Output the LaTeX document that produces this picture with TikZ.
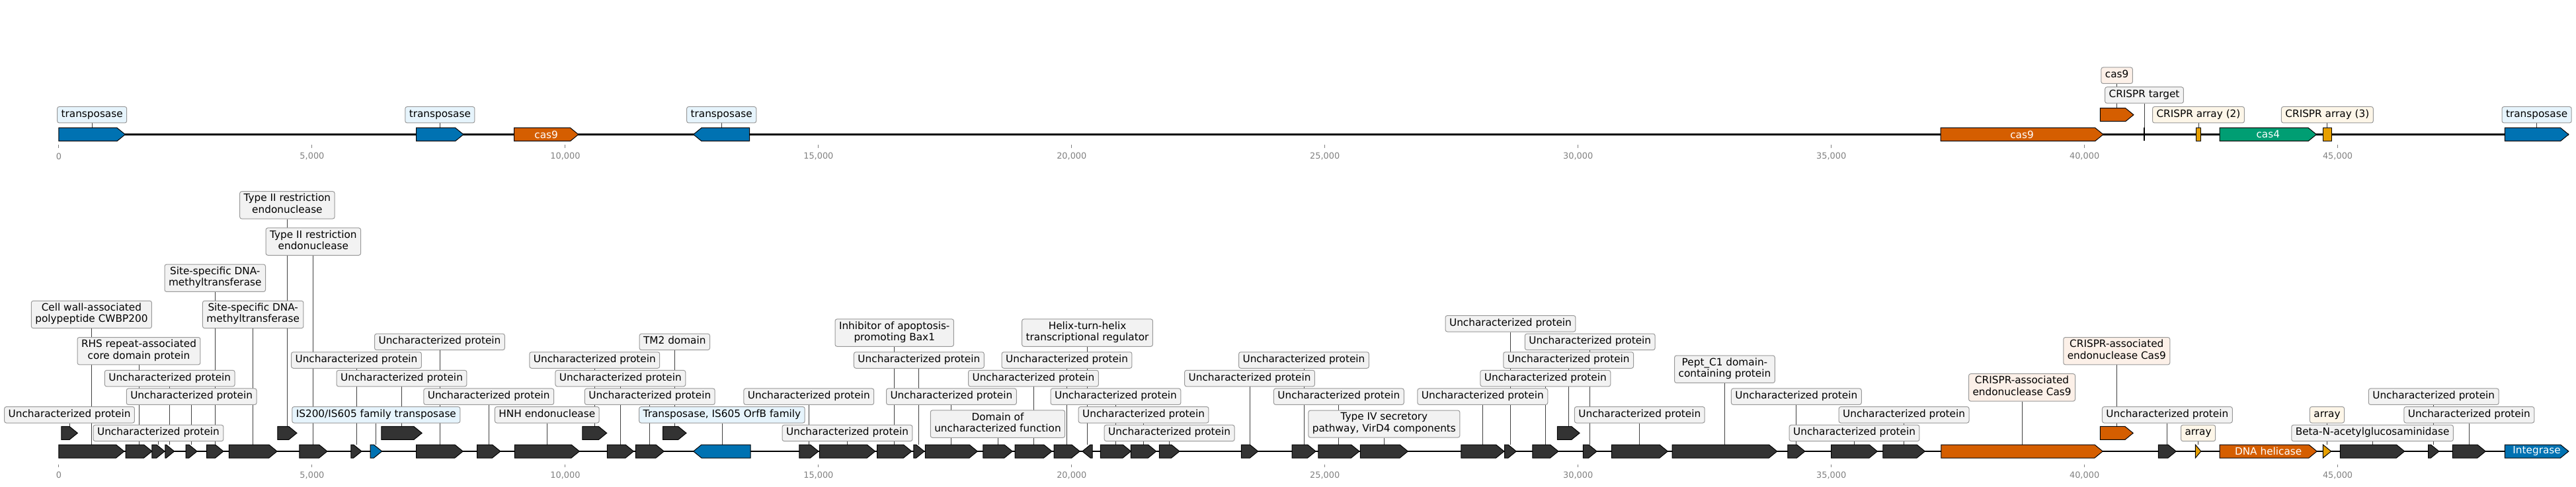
\documentclass[tikz,border=0pt]{standalone}
\usepackage{fontspec}
\setmainfont{DejaVu Sans}
\usetikzlibrary{backgrounds}

\begin{document}
\begin{tikzpicture}[x=76.59pt, y=1pt, line join=miter]
  % ----- styles & colors -----
  \definecolor{dk}{RGB}{51,51,51}
  \definecolor{blu}{RGB}{0,114,178}
  \definecolor{org}{RGB}{213,94,0}
  \definecolor{grn}{RGB}{0,158,115}
  \definecolor{yel}{RGB}{230,159,0}
  \definecolor{lgray}{RGB}{242,242,242}
  \definecolor{lblue}{RGB}{230,244,252}
  \definecolor{lpeach}{RGB}{252,240,232}
  \definecolor{lcream}{RGB}{253,246,232}
  \definecolor{edge}{RGB}{153,153,153}
  \definecolor{tickgray}{RGB}{128,128,128}
  \tikzset{
    gene/.style={draw=black, line width=1pt},
    track/.style={draw=black, line width=2.4pt},
    lab/.style={draw=edge, line width=1pt, rounded corners=3pt, inner xsep=6pt, inner ysep=3.5pt,
      align=center, font=\fontsize{15.3}{17.5}\selectfont,
      execute at begin node=\strut, execute at end node=\strut},
    intext/.style={text=white, inner sep=0pt, font=\fontsize{15.3}{17.5}\selectfont},
    stem/.style={draw=black!75, line width=0.9pt},
    tick/.style={draw=tickgray, line width=1pt},
    ticklab/.style={text=tickgray, inner sep=0pt, font=\fontsize{12.9}{15}\selectfont}
  }

  % ----- geometry -----
  \def\hh{0.16}              % arrow head length (kb)
  \def\uncp{Uncharacterized protein}

  \useasboundingbox (-1.162,0) rectangle (49.706,736);

  % ===== top track =====
  \def\yb{532.5}  \def\ys{29.75}
  \draw[track] (0,\yb) -- (49.56,\yb);

  \foreach \t/\tl in {0/0,5/{5,000},10/{10,000},15/{15,000},20/{20,000},25/{25,000},30/{30,000},35/{35,000},40/{40,000},45/{45,000}}{
    \draw[tick] (\t,512) -- (\t,516.7);
    \node[ticklab] (tt\t) at (\t,499.3) {\tl};
  }

  % genes with a label box
  \foreach \xa/\xb/\gl/\dir/\gc/\ll/\txt/\lf [count=\i] in {
    0.00/1.31/0/1/blu/1/transposase/lblue,
    7.06/7.99/0/1/blu/1/transposase/lblue,
    12.53/13.64/0/-1/blu/1/transposase/lblue,
    40.31/40.97/1/1/org/3/cas9/lpeach,
    42.20/42.30/0/0/yel/1/CRISPR array (2)/lcream,
    44.71/44.88/0/0/yel/1/CRISPR array (3)/lcream,
    48.30/49.56/0/1/blu/1/transposase/lblue}{
    \pgfmathsetmacro\yy{\yb+\ys*\gl}
    \pgfmathsetmacro\hd{min(\hh,\xb-\xa)}
    \pgfmathsetmacro\tip{\dir>0 ? \xb : \xa}
    \pgfmathsetmacro\bas{\dir>0 ? \xa : \xb}
    \pgfmathsetmacro\nk{\tip-(\dir)*\hd}
    \draw[gene, fill=\gc] (\bas,\yy-10) -- (\nk,\yy-10) -- (\tip,\yy) -- (\nk,\yy+10) -- (\bas,\yy+10) -- cycle;
    \coordinate (tf\i) at ({(\xa+\xb)/2},\yy+10);
    \node[lab, fill=\lf] (tl\i) at ({(\xa+\xb)/2},{\yb+\ys*\ll}) {\txt};
    \begin{scope}[on background layer]
      \draw[stem] (tl\i) -- (tf\i);
    \end{scope}
  }

  % genes named inside the arrow
  \foreach \xa/\xb/\gc/\txt [count=\i] in {8.99/10.26/org/cas9, 37.16/40.37/org/cas9, 42.67/44.58/grn/cas4}{
    \draw[gene, fill=\gc] (\xa,\yb-10) -- (\xb-\hh,\yb-10) -- (\xb,\yb) -- (\xb-\hh,\yb+10) -- (\xa,\yb+10) -- cycle;
    \node[intext] (ti\i) at ({(\xa+\xb)/2},\yb) {\txt};
  }

  % CRISPR target
  \coordinate (ct) at (41.18,\yb);
  \draw[line width=2.6pt] (41.18,\yb-10) -- (41.18,\yb+10);
  \node[lab, fill=lgray] (tlct) at (41.18,\yb+2*\ys) {CRISPR target};
  \begin{scope}[on background layer]
    \draw[stem] (tlct) -- (ct);
  \end{scope}

  % ===== bottom track =====
  \def\yb{53}  \def\ys{27.6}
  \draw[track] (0,\yb) -- (49.56,\yb);

  \foreach \t/\tl in {0/0,5/{5,000},10/{10,000},15/{15,000},20/{20,000},25/{25,000},30/{30,000},35/{35,000},40/{40,000},45/{45,000}}{
    \draw[tick] (\t,28.7) -- (\t,33.3);
    \node[ticklab] (bt\t) at (\t,16.7) {\tl};
  }

  \foreach \xa/\xb/\gl/\dir/\gc/\ll/\txt/\lf [count=\i] in {
    0.00/1.29/0/1/dk/7.5/{Cell wall-associated\\polypeptide CWBP200}/lgray,
    0.05/0.37/1/1/dk/2/\uncp/lgray,
    1.32/1.84/0/1/dk/5.5/{RHS repeat-associated\\core domain protein}/lgray,
    1.84/2.09/0/1/dk/1/\uncp/lgray,
    2.10/2.28/0/1/dk/4/\uncp/lgray,
    2.51/2.73/0/1/dk/3/\uncp/lgray,
    2.92/3.25/0/1/dk/9.5/{Site-specific DNA-\\methyltransferase}/lgray,
    3.36/4.31/0/1/dk/7.5/{Site-specific DNA-\\methyltransferase}/lgray,
    4.32/4.70/1/1/dk/13.5/{Type II restriction\\endonuclease}/lgray,
    4.75/5.30/0/1/dk/11.5/{Type II restriction\\endonuclease}/lgray,
    5.77/5.98/0/1/dk/5/\uncp/lgray,
    6.15/6.38/0/1/blu/2/{IS200/IS605 family transposase}/lblue,
    6.37/7.17/1/1/dk/4/\uncp/lgray,
    7.06/7.98/0/1/dk/6/\uncp/lgray,
    8.26/8.72/0/1/dk/3/\uncp/lgray,
    9.00/10.28/0/1/dk/2/HNH endonuclease/lgray,
    10.34/10.82/1/1/dk/5/\uncp/lgray,
    10.83/11.35/0/1/dk/4/\uncp/lgray,
    11.39/11.95/0/1/dk/3/\uncp/lgray,
    11.93/12.39/1/1/dk/6/TM2 domain/lgray,
    12.53/13.66/0/-1/blu/2/{Transposase, IS605 OrfB family}/lblue,
    14.62/15.00/0/1/dk/3/\uncp/lgray,
    15.02/16.12/0/1/dk/1/\uncp/lgray,
    16.16/16.84/0/1/dk/6.5/{Inhibitor of apoptosis-\\promoting Bax1}/lgray,
    16.88/17.09/0/1/dk/5/\uncp/lgray,
    17.11/18.14/0/1/dk/3/\uncp/lgray,
    18.25/18.83/0/1/dk/1.5/{Domain of\\uncharacterized function}/lgray,
    18.88/19.61/0/1/dk/4/\uncp/lgray,
    19.65/20.16/0/1/dk/5/\uncp/lgray,
    20.21/20.41/0/-1/dk/6.5/{Helix-turn-helix\\transcriptional regulator}/lgray,
    20.57/21.17/0/1/dk/3/\uncp/lgray,
    21.17/21.67/0/1/dk/2/\uncp/lgray,
    21.73/22.13/0/1/dk/1/\uncp/lgray,
    23.35/23.68/0/1/dk/4/\uncp/lgray,
    24.35/24.82/0/1/dk/5/\uncp/lgray,
    24.87/25.68/0/1/dk/3/\uncp/lgray,
    25.70/26.64/0/1/dk/1.5/{Type IV secretory\\pathway, VirD4 components}/lgray,
    27.69/28.54/0/1/dk/3/\uncp/lgray,
    28.55/28.78/0/1/dk/7/\uncp/lgray,
    29.10/29.61/0/1/dk/4/\uncp/lgray,
    29.59/30.03/1/1/dk/5/\uncp/lgray,
    30.10/30.37/0/1/dk/6/\uncp/lgray,
    30.66/31.77/0/1/dk/2/\uncp/lgray,
    31.86/33.93/0/1/dk/4.5/{Pept\_C1 domain-\\containing protein}/lgray,
    34.14/34.48/0/1/dk/3/\uncp/lgray,
    35.00/35.91/0/1/dk/1/\uncp/lgray,
    36.02/36.85/0/1/dk/2/\uncp/lgray,
    37.17/40.36/0/1/org/3.5/{CRISPR-associated\\endonuclease Cas9}/lpeach,
    40.31/40.96/1/1/org/5.5/{CRISPR-associated\\endonuclease Cas9}/lpeach,
    41.46/41.81/0/1/dk/2/\uncp/lgray,
    42.19/42.30/0/1/yel/1/array/lcream,
    44.71/44.87/0/1/yel/2/array/lcream,
    45.05/46.32/0/1/dk/1/Beta-N-acetylglucosaminidase/lgray,
    46.79/47.00/0/1/dk/3/\uncp/lgray,
    47.27/47.92/0/1/dk/2/\uncp/lgray}{
    \pgfmathsetmacro\yy{\yb+\ys*\gl}
    \pgfmathsetmacro\hd{min(\hh,\xb-\xa)}
    \pgfmathsetmacro\tip{\dir>0 ? \xb : \xa}
    \pgfmathsetmacro\bas{\dir>0 ? \xa : \xb}
    \pgfmathsetmacro\nk{\tip-(\dir)*\hd}
    \draw[gene, fill=\gc] (\bas,\yy-10) -- (\nk,\yy-10) -- (\tip,\yy) -- (\nk,\yy+10) -- (\bas,\yy+10) -- cycle;
    \coordinate (bf\i) at ({(\xa+\xb)/2},\yy+10);
    \node[lab, fill=\lf] (bl\i) at ({(\xa+\xb)/2},{\yb+\ys*\ll}) {\txt};
    \begin{scope}[on background layer]
      \draw[stem] (bl\i) -- (bf\i);
    \end{scope}
  }

  \foreach \xa/\xb/\gc/\txt [count=\i] in {42.67/44.59/org/DNA helicase, 48.30/49.56/blu/Integrase}{
    \draw[gene, fill=\gc] (\xa,\yb-10) -- (\xb-\hh,\yb-10) -- (\xb,\yb) -- (\xb-\hh,\yb+10) -- (\xa,\yb+10) -- cycle;
    \node[intext] (bi\i) at ({(\xa+\xb)/2},\yb) {\txt};
  }

\end{tikzpicture}
\end{document}
